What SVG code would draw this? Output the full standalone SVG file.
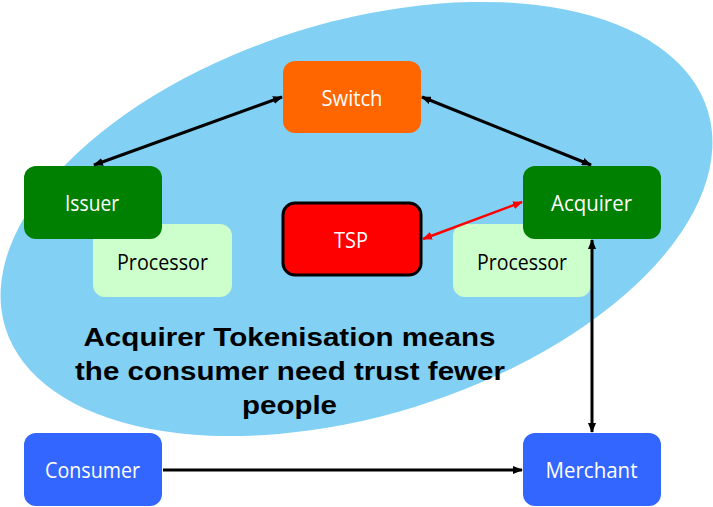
<svg xmlns="http://www.w3.org/2000/svg" width="713" height="507" viewBox="0 0 713 507">
  <style>
    .lbl { font-family: "Open Sans", "Noto Sans", sans-serif; font-size: 22px; fill: #ffffff; text-anchor: middle; dominant-baseline: central; }
    .proc { fill: #000000; }
    .big { font-family: "Liberation Sans", Arial, sans-serif; font-weight: bold; font-size: 26.5px; fill: #000000; text-anchor: middle; }
    .conn { stroke: #000000; stroke-width: 3; fill: none; }
    .red { stroke: #ff0000; stroke-width: 2.5; fill: none; }
  </style>
  <defs>
    <marker id="ah" viewBox="0 0 10 8" refX="9" refY="4" markerWidth="10" markerHeight="8" markerUnits="userSpaceOnUse" orient="auto-start-reverse">
      <path d="M0,0 L10,4 L0,8 z" fill="#000000"/>
    </marker>
    <marker id="ahr" viewBox="0 0 10 8" refX="9" refY="4" markerWidth="10" markerHeight="8" markerUnits="userSpaceOnUse" orient="auto-start-reverse">
      <path d="M0,0 L10,4 L0,8 z" fill="#ff0000"/>
    </marker>
  </defs>
  <rect width="713" height="507" fill="#ffffff"/>
  <ellipse id="cloud" cx="356.5" cy="219" rx="367.6" ry="196.7" transform="rotate(-17.2 356.5 219)" fill="#83d0f5"/>

  <g id="issuer-processor">
    <rect x="93" y="224" width="139" height="73" rx="12" fill="#ccffcc"/>
    <text class="lbl proc" x="162.5" y="261" textLength="91" lengthAdjust="spacingAndGlyphs">Processor</text>
  </g>
  <g id="acquirer-processor">
    <rect x="453" y="224" width="138" height="73" rx="12" fill="#ccffcc"/>
    <text class="lbl proc" x="522" y="261" textLength="90" lengthAdjust="spacingAndGlyphs">Processor</text>
  </g>
  <g id="switch">
    <rect x="283" y="61" width="138" height="72" rx="12" fill="#ff6600"/>
    <text class="lbl" x="352" y="97" textLength="61" lengthAdjust="spacingAndGlyphs">Switch</text>
  </g>
  <g id="issuer">
    <rect x="24" y="166" width="138" height="73" rx="12" fill="#008000"/>
    <text class="lbl" x="92" y="202" textLength="54" lengthAdjust="spacingAndGlyphs">Issuer</text>
  </g>
  <g id="acquirer">
    <rect x="523" y="166" width="138" height="73" rx="12" fill="#008000"/>
    <text class="lbl" x="591.5" y="202" textLength="81" lengthAdjust="spacingAndGlyphs">Acquirer</text>
  </g>
  <g id="tsp">
    <rect x="283" y="203" width="138" height="72" rx="12" fill="#ff0000" stroke="#000000" stroke-width="3"/>
    <text class="lbl" x="351" y="239" textLength="34" lengthAdjust="spacingAndGlyphs">TSP</text>
  </g>
  <g id="consumer">
    <rect x="24" y="433" width="138" height="73" rx="12" fill="#3366ff"/>
    <text class="lbl" x="92.5" y="469" textLength="95" lengthAdjust="spacingAndGlyphs">Consumer</text>
  </g>
  <g id="merchant">
    <rect x="523" y="433" width="138" height="73" rx="12" fill="#3366ff"/>
    <text class="lbl" x="591.5" y="469" textLength="92" lengthAdjust="spacingAndGlyphs">Merchant</text>
  </g>

  <g id="connectors">
    <line class="conn" x1="94" y1="165" x2="282" y2="97" marker-start="url(#ah)" marker-end="url(#ah)"/>
    <line class="conn" x1="422" y1="97" x2="591" y2="165" marker-start="url(#ah)" marker-end="url(#ah)"/>
    <line class="red" x1="423" y1="239" x2="522" y2="202" marker-start="url(#ahr)" marker-end="url(#ahr)"/>
    <line class="conn" x1="592" y1="240" x2="592" y2="432" marker-start="url(#ah)" marker-end="url(#ah)"/>
    <line class="conn" x1="163" y1="470" x2="522" y2="470" marker-end="url(#ah)"/>
  </g>

  <g id="caption">
    <text class="big" x="289.5" y="346" textLength="412" lengthAdjust="spacingAndGlyphs">Acquirer Tokenisation means</text>
    <text class="big" x="290" y="380" textLength="430" lengthAdjust="spacingAndGlyphs">the consumer need trust fewer</text>
    <text class="big" x="289.5" y="414" textLength="95" lengthAdjust="spacingAndGlyphs">people</text>
  </g>
</svg>
